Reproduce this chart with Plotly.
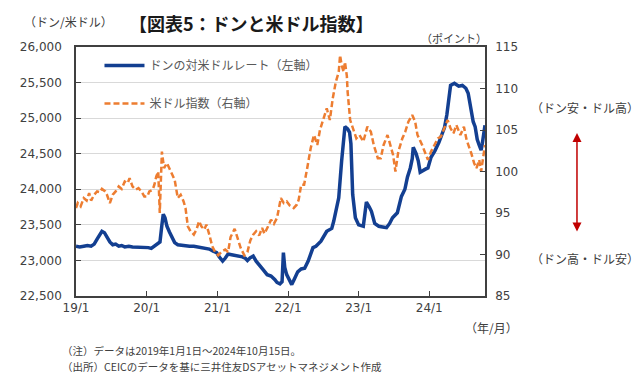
import plotly.graph_objects as go

# ---- data ----
vnd_dates = [
    "2019-01-01","2019-01-20","2019-02-10","2019-03-01","2019-03-20","2019-04-05","2019-04-20",
    "2019-05-05","2019-05-15","2019-05-28","2019-06-10","2019-06-25","2019-07-10","2019-07-25",
    "2019-08-10","2019-08-25","2019-09-10","2019-10-01","2019-10-20","2019-11-10","2019-12-01",
    "2019-12-20","2020-01-10","2020-01-25","2020-02-10","2020-02-25","2020-03-10","2020-03-20",
    "2020-03-27","2020-04-05","2020-04-15","2020-04-28","2020-05-10","2020-05-25","2020-06-10",
    "2020-07-01","2020-07-20","2020-08-10","2020-09-01","2020-09-20","2020-10-10","2020-11-01",
    "2020-11-20","2020-12-10","2020-12-28","2021-01-10","2021-01-28","2021-02-10","2021-02-25",
    "2021-03-15","2021-04-05","2021-04-25","2021-05-10","2021-05-25","2021-06-05","2021-06-20",
    "2021-07-05","2021-07-20","2021-08-05","2021-08-25","2021-09-15","2021-10-05","2021-10-25",
    "2021-11-05","2021-11-20","2021-12-01","2021-12-08","2021-12-15","2021-12-25","2022-01-10",
    "2022-01-20","2022-02-01","2022-02-20","2022-03-10","2022-03-28","2022-04-15","2022-05-10",
    "2022-05-25","2022-06-20","2022-07-20","2022-08-15","2022-08-25","2022-09-20","2022-10-05",
    "2022-10-22","2022-11-05","2022-11-15","2022-11-22","2022-12-01","2022-12-15","2023-01-01",
    "2023-01-25","2023-02-10","2023-02-25","2023-03-08","2023-03-25","2023-04-15","2023-05-05",
    "2023-05-25","2023-06-10","2023-06-25","2023-07-20","2023-08-10","2023-08-28","2023-09-10",
    "2023-09-25","2023-10-05","2023-10-10","2023-10-25","2023-11-05","2023-11-15","2023-12-10",
    "2023-12-25","2024-01-10","2024-01-30","2024-02-20","2024-03-10","2024-03-20","2024-04-01",
    "2024-04-10","2024-04-20","2024-05-10","2024-06-01","2024-06-20","2024-07-08","2024-07-20",
    "2024-08-05","2024-08-15","2024-08-25","2024-09-05","2024-09-15","2024-09-25","2024-10-01",
    "2024-10-08","2024-10-15",
]
vnd_values = [
    23200,23190,23200,23210,23200,23230,23300,
    23380,23410,23390,23330,23260,23220,23230,
    23200,23210,23190,23200,23190,23190,23180,
    23180,23180,23170,23200,23230,23260,23500,
    23650,23600,23480,23400,23320,23250,23220,
    23210,23200,23200,23200,23190,23180,23170,
    23160,23130,23110,23050,22990,23030,23090,
    23080,23070,23060,23050,23030,23000,23040,
    23060,22990,22930,22870,22800,22780,22730,
    22690,22670,22700,23110,22900,22800,22700,
    22660,22730,22840,22880,22890,22990,23180,
    23200,23270,23410,23450,23550,23880,24400,
    24880,24850,24800,24640,23930,23600,23500,
    23480,23820,23750,23690,23520,23480,23470,
    23460,23520,23600,23670,23900,24000,24170,
    24300,24430,24590,24500,24400,24240,24280,
    24300,24450,24540,24660,24800,24870,25050,
    25300,25460,25490,25450,25460,25420,25350,
    25110,24950,24880,24700,24620,24550,24640,
    24780,24900,
]

dxy_dates = [
    "2019-01-01","2019-01-10","2019-01-25","2019-02-10","2019-02-25","2019-03-10","2019-03-20",
    "2019-04-05","2019-04-20","2019-05-05","2019-05-15","2019-06-01","2019-06-10","2019-06-25",
    "2019-07-10","2019-07-25","2019-08-10","2019-08-25","2019-09-10","2019-09-25","2019-10-05",
    "2019-10-20","2019-11-05","2019-11-20","2019-12-05","2019-12-20","2020-01-05","2020-01-15",
    "2020-02-01","2020-02-10","2020-02-20","2020-03-01","2020-03-09","2020-03-20","2020-03-31",
    "2020-04-15","2020-05-01","2020-05-15","2020-05-25","2020-06-10","2020-06-25","2020-07-10",
    "2020-07-20","2020-08-01","2020-08-15","2020-09-01","2020-09-15","2020-09-28","2020-10-10",
    "2020-10-25","2020-11-05","2020-11-20","2020-12-05","2020-12-20","2021-01-05","2021-01-25",
    "2021-02-10","2021-02-25","2021-03-10","2021-03-31","2021-04-15","2021-05-01","2021-05-20",
    "2021-06-05","2021-06-20","2021-07-05","2021-07-20","2021-08-05","2021-08-20","2021-09-01",
    "2021-09-20","2021-10-05","2021-10-20","2021-11-05","2021-11-15","2021-11-25","2021-12-10",
    "2021-12-25","2022-01-10","2022-01-30","2022-02-15","2022-02-25","2022-03-10","2022-03-25",
    "2022-04-10","2022-04-28","2022-05-15","2022-06-01","2022-06-15","2022-07-05","2022-07-20",
    "2022-08-05","2022-08-20","2022-09-05","2022-09-20","2022-09-27","2022-10-05","2022-10-15",
    "2022-10-22","2022-11-01","2022-11-05","2022-11-18","2022-12-05","2022-12-20","2023-01-05",
    "2023-01-25","2023-02-15","2023-03-05","2023-03-20","2023-04-10","2023-04-25","2023-05-10",
    "2023-05-30","2023-06-15","2023-06-28","2023-07-10","2023-07-25","2023-08-15","2023-08-30",
    "2023-09-15","2023-10-05","2023-10-20","2023-11-01","2023-11-25","2023-12-10","2023-12-25",
    "2024-01-10","2024-01-30","2024-02-15","2024-03-01","2024-03-15","2024-04-05","2024-04-20",
    "2024-05-05","2024-05-20","2024-06-10","2024-06-28","2024-07-12","2024-08-05","2024-08-20",
    "2024-09-01","2024-09-15","2024-09-25","2024-10-15",
]
dxy_values = [
    95.6,96.2,95.8,96.8,96.5,97.4,96.5,
    97.2,97.6,97.5,97.9,97.6,97.2,96.2,
    97.2,97.6,98.2,97.9,98.8,98.6,99.2,
    98.2,97.8,98.0,97.6,97.0,97.0,97.6,
    97.8,98.4,99.4,100.0,95.0,102.4,100.4,
    101.0,100.2,99.4,99.0,96.8,97.2,96.4,
    95.6,93.4,92.8,92.4,93.0,94.0,93.4,
    93.0,93.6,92.4,91.0,90.3,89.9,90.4,
    90.6,90.3,92.1,93.1,92.1,90.8,89.9,
    90.3,91.7,92.4,92.8,92.3,93.2,92.5,
    93.4,94.2,93.7,94.4,95.6,96.8,96.2,
    96.4,95.9,95.6,96.0,96.6,98.4,98.4,
    100.4,102.8,104.4,103.2,105.0,106.4,107.6,
    106.2,108.8,110.8,112.0,114.0,112.8,112.0,
    113.2,111.5,109.6,106.2,105.0,104.0,104.4,
    103.6,105.4,104.8,103.2,101.6,101.6,103.2,
    104.4,103.2,102.0,100.0,102.4,104.0,104.8,
    106.0,106.8,106.0,104.4,103.2,102.2,101.4,
    102.4,103.4,104.0,104.2,105.0,106.2,105.2,
    104.6,105.6,104.4,105.4,103.8,102.2,101.0,
    100.4,101.4,100.0,103.2,
]

year_ticks = ["2019-01-01","2020-01-01","2021-01-01","2022-01-01","2023-01-01","2024-01-01"]
year_labels = ["19/1","20/1","21/1","22/1","23/1","24/1"]

name_vnd = "ドンの対米ドルレート（左軸）"
name_dxy = "米ドル指数（右軸）"

# ---- geometry (the page body has an 8px margin) ----
OFF = 8
W, H = 640 - OFF, 380 - OFF
L, R, T, B = 67 - OFF, 485 - OFF, 47 - OFF, 296 - OFF
def px(x):  # x given in window pixels
    return (x - OFF - L) / (R - L)
def py(y):
    return (B - (y - OFF)) / (B - T)

JP = "Noto Sans CJK JP"
NUM = "DejaVu Sans"
GRAY = "#404040"

fig = go.Figure()
fig.add_trace(go.Scatter(
    x=vnd_dates, y=vnd_values, name=name_vnd, mode="lines",
    line=dict(color="#133f91", width=3.5), yaxis="y", legend="legend",
))
fig.add_trace(go.Scatter(
    x=dxy_dates, y=dxy_values, name=name_dxy, mode="lines",
    line=dict(color="#ed7d31", width=2.5, dash="6px,3px"), yaxis="y2", legend="legend2",
))

fig.update_layout(
    width=W, height=H,
    margin=dict(l=L, r=W - R, t=T, b=H - B),
    paper_bgcolor="white", plot_bgcolor="white",
    font=dict(family=JP, color=GRAY, size=12),
    showlegend=True,
    legend=dict(x=px(91), y=py(51), xanchor="left", yanchor="top", itemwidth=40,
                bgcolor="rgba(0,0,0,0)", font=dict(family=JP, size=12, color="#595959")),
    legend2=dict(x=px(91), y=py(89), xanchor="left", yanchor="top", itemwidth=40,
                 bgcolor="rgba(0,0,0,0)", font=dict(family=JP, size=12, color="#595959")),
    xaxis=dict(
        type="date", range=["2019-01-01", "2024-10-15"],
        tickvals=year_ticks, ticktext=year_labels,
        ticks="inside", ticklen=5, tickcolor="#404040",
        showline=True, linecolor="#404040", linewidth=1.5, mirror=True,
        showgrid=False, zeroline=False,
        tickfont=dict(family=NUM, size=12, color=GRAY),
    ),
    yaxis=dict(
        range=[22500, 26000], dtick=500, tickformat=",d",
        ticks="inside", ticklen=5, tickcolor="#404040", ticklabelstandoff=10,
        showline=True, linecolor="#404040", linewidth=1.5,
        showgrid=True, gridcolor="#d9d9d9", gridwidth=1, zeroline=False,
        tickfont=dict(family=NUM, size=12, color=GRAY),
    ),
    yaxis2=dict(
        range=[85, 115], dtick=5, overlaying="y", side="right",
        ticks="inside", ticklen=5, tickcolor="#404040", ticklabelstandoff=6,
        showline=True, linecolor="#404040", linewidth=1.5,
        showgrid=False, zeroline=False,
        tickfont=dict(family=NUM, size=12, color=GRAY),
    ),
)

ann = []
def text(x, y, s, size=12, anchor="left", bold=False, color=GRAY, yanchor="middle"):
    ann.append(dict(x=px(x), y=py(y), xref="paper", yref="paper", text=("<b>%s</b>" % s) if bold else s,
                    showarrow=False, xanchor=anchor, yanchor=yanchor,
                    font=dict(family=JP, size=size, color=color)))

text(246, 8, "【図表5：ドンと米ドル指数】", size=18, anchor="center", bold=True, color="#1a1a1a", yanchor="top")
text(12, 21, "（ドン/米ドル）", size=12)
text(418, 38, "（ポイント）", size=11)
text(463, 327, "（年/月）", size=12)
text(587, 107, "（ドン安・ドル高）", size=12, anchor="center")
text(587, 258, "（ドン高・ドル安）", size=12, anchor="center")
text(51, 350, "（注）データは2019年1月1日～2024年10月15日。", size=10.5)
text(51, 366, "（出所）CEICのデータを基に三井住友DSアセットマネジメント作成", size=10.5)

ann.append(dict(x=px(579), y=py(133), xref="paper", yref="paper",
                ax=0, ay=100, axref="pixel", ayref="pixel", text="",
                showarrow=True, arrowhead=2, arrowside="end+start",
                arrowsize=1.2, arrowwidth=1.5, arrowcolor="#c00000"))

fig.update_layout(annotations=ann)
fig.write_html("out.html")
